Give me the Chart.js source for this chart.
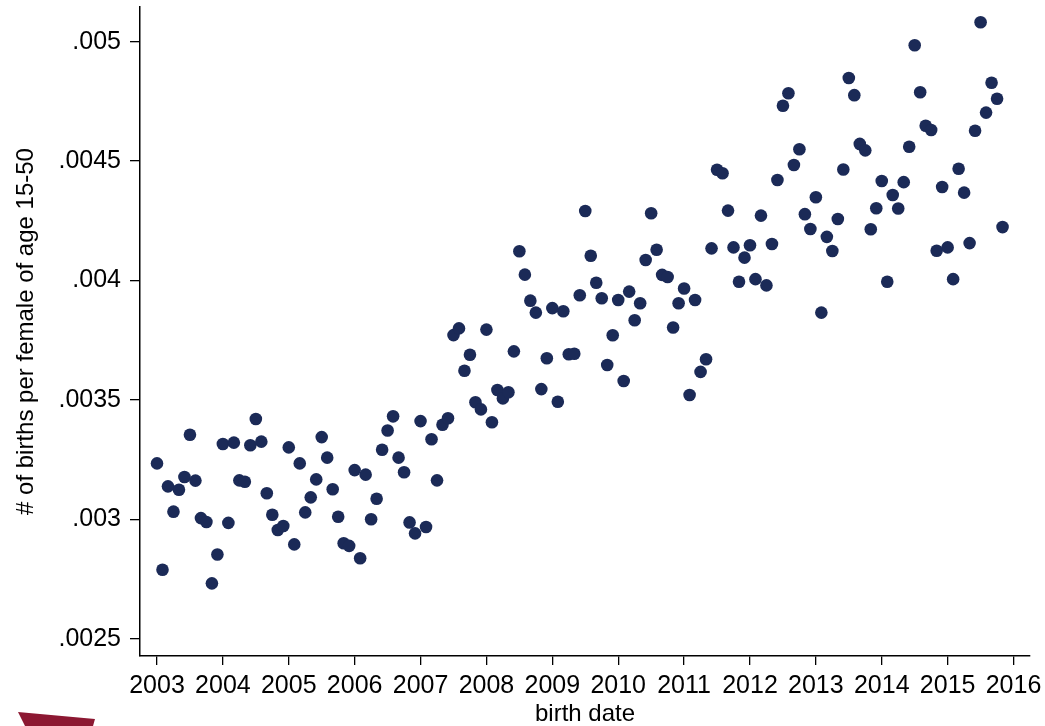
<!DOCTYPE html>
<html>
<head>
<meta charset="utf-8">
<script src="https://cdn.jsdelivr.net/npm/chart.js@4/dist/chart.umd.min.js"></script>
<style>
  html, body { margin: 0; padding: 0; background: #fff; }
  #wrap { position: relative; width: 1045px; height: 726px; overflow: hidden; }
  #logo {
    position: absolute; left: 0; top: 0; width: 1045px; height: 726px;
    background: #8c1832;
    clip-path: polygon(18px 712px, 95px 719px, 93px 726px, 25px 726px);
  }
</style>
</head>
<body>
<div id="wrap">
  <canvas id="chart" width="1045" height="726"></canvas>
  <div id="logo"></div>
</div>
<script>
// monthly series, Jan 2003 .. Nov 2015
const startYear = 2003;
const births = [
  0.003235, 0.002790, 0.003139, 0.003033, 0.003125, 0.003178, 0.003355, 0.003163, 0.003006, 0.002990, 0.002733, 0.002854,
  0.003316, 0.002986, 0.003322, 0.003164, 0.003158, 0.003311, 0.003421, 0.003326, 0.003110, 0.003020, 0.002956, 0.002973,
  0.003302, 0.002896, 0.003235, 0.003030, 0.003093, 0.003168, 0.003345, 0.003259, 0.003127, 0.003012, 0.002901, 0.002890,
  0.003207, 0.002838, 0.003188, 0.003001, 0.003087, 0.003292, 0.003373, 0.003432, 0.003259, 0.003198, 0.002988, 0.002942,
  0.003412, 0.002969, 0.003336, 0.003164, 0.003397, 0.003424, 0.003772, 0.003800, 0.003623, 0.003690, 0.003491, 0.003461,
  0.003795, 0.003407, 0.003542, 0.003507, 0.003533, 0.003704, 0.004123, 0.004025, 0.003916, 0.003866, 0.003546, 0.003675,
  0.003885, 0.003493, 0.003872, 0.003692, 0.003694, 0.003939, 0.004291, 0.004104, 0.003991, 0.003926, 0.003647, 0.003771,
  0.003919, 0.003580, 0.003954, 0.003834, 0.003905, 0.004086, 0.004282, 0.004129, 0.004024, 0.004015, 0.003804, 0.003905,
  0.003967, 0.003521, 0.003919, 0.003618, 0.003671, 0.004135, 0.004464, 0.004449, 0.004293, 0.004139, 0.003995, 0.004096,
  0.004148, 0.004006, 0.004272, 0.003980, 0.004153, 0.004421, 0.004732, 0.004784, 0.004484, 0.004550, 0.004278, 0.004216,
  0.004349, 0.003866, 0.004183, 0.004124, 0.004258, 0.004465, 0.004848, 0.004776, 0.004572, 0.004545, 0.004215, 0.004303,
  0.004417, 0.003995, 0.004358, 0.004302, 0.004412, 0.004560, 0.004985, 0.004788, 0.004648, 0.004630, 0.004125, 0.004392,
  0.004139, 0.004006, 0.004468, 0.004368, 0.004157, 0.004627, 0.005081, 0.004703, 0.004828, 0.004761, 0.004224
];
const yearTicks = [2003, 2004, 2005, 2006, 2007, 2008, 2009, 2010, 2011, 2012, 2013, 2014, 2015, 2016];
const yTicks = [0.0025, 0.003, 0.0035, 0.004, 0.0045, 0.005];
const yTickLabels = ['.0025', '.003', '.0035', '.004', '.0045', '.005'];

const points = births.map((v, i) => ({ x: startYear + i / 12, y: v }));

const fontFamily = '"Liberation Sans", Arial, sans-serif';

// keep the plot box fixed, labels may overhang
const noPad = (scale) => {
  scale.paddingTop = 0; scale.paddingBottom = 0;
  scale.paddingLeft = 0; scale.paddingRight = 0;
};

new Chart(document.getElementById('chart'), {
  type: 'scatter',
  data: {
    datasets: [{
      data: points,
      pointRadius: 6.3,
      pointHoverRadius: 6.3,
      pointBorderWidth: 0,
      pointBackgroundColor: '#1b2a57',
      borderColor: '#1b2a57'
    }]
  },
  options: {
    responsive: false,
    animation: false,
    devicePixelRatio: 1,
    layout: { padding: { left: 0, right: 15, top: 7, bottom: 0 } },
    plugins: {
      legend: { display: false },
      tooltip: { enabled: false }
    },
    scales: {
      x: {
        type: 'linear',
        min: 2002.742,
        max: 2016.25,
        afterBuildTicks: (scale) => { scale.ticks = yearTicks.map(v => ({ value: v })); },
        afterFit: (scale) => { scale.height = 70; noPad(scale); },
        grid: { drawOnChartArea: false, drawTicks: true, tickLength: 9, color: '#000', lineWidth: 1.3 },
        border: { display: true, color: '#000', width: 1.5 },
        ticks: {
          padding: 6,
          maxRotation: 0,
          autoSkip: false,
          color: '#000',
          font: { family: fontFamily, size: 25 },
          callback: (v) => String(v)
        },
        title: {
          display: true,
          text: 'birth date',
          color: '#000',
          font: { family: fontFamily, size: 24, lineHeight: 1 },
          padding: { top: 0, bottom: 0 }
        }
      },
      y: {
        min: 0.002429,
        max: 0.005145,
        afterBuildTicks: (scale) => { scale.ticks = yTicks.map(v => ({ value: v })); },
        afterFit: (scale) => { scale.width = 140; noPad(scale); },
        grid: { drawOnChartArea: false, drawTicks: true, tickLength: 10, color: '#000', lineWidth: 1.3 },
        border: { display: true, color: '#000', width: 1.5 },
        ticks: {
          padding: 9,
          autoSkip: false,
          color: '#000',
          font: { family: fontFamily, size: 25 },
          callback: (v) => {
            const i = yTicks.findIndex(t => Math.abs(t - v) < 1e-9);
            return i >= 0 ? yTickLabels[i] : '';
          }
        },
        title: {
          display: true,
          text: '# of births per female of age 15-50',
          color: '#000',
          font: { family: fontFamily, size: 24 },
          padding: { top: 12, bottom: 0 }
        }
      }
    }
  }
});
</script>
</body>
</html>
